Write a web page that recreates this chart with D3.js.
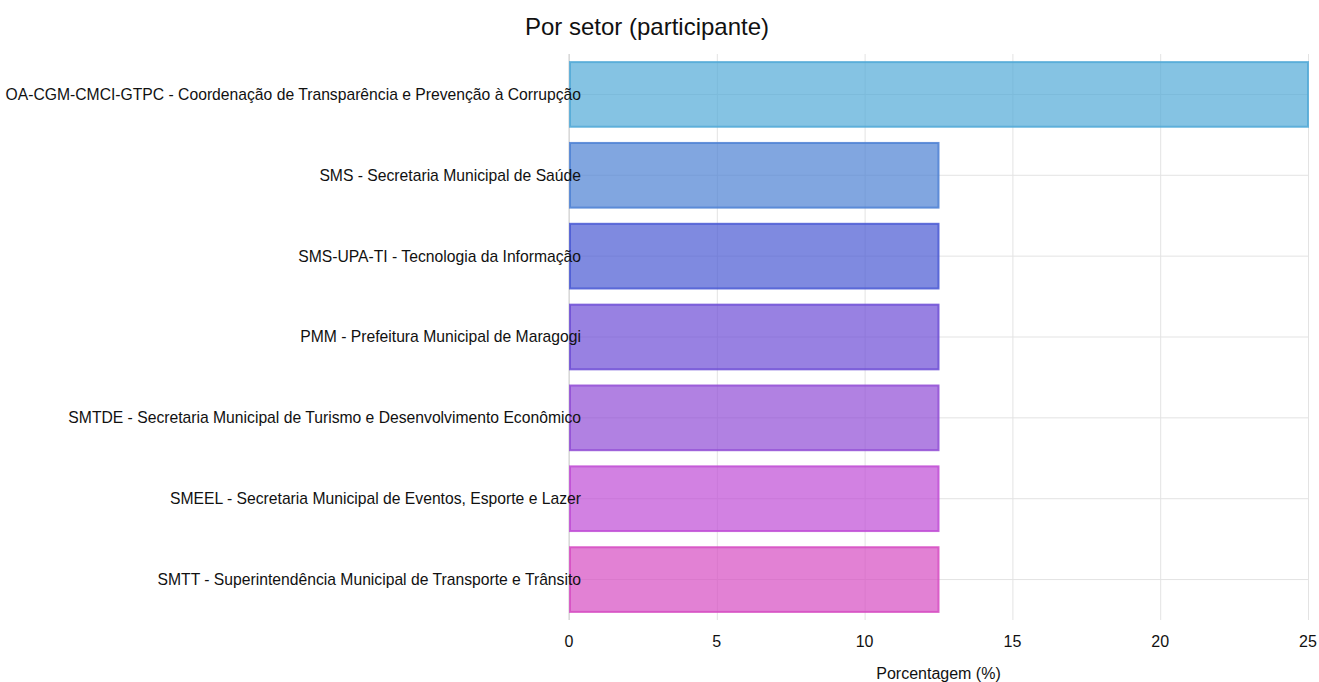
<!DOCTYPE html>
<html>
<head>
<meta charset="utf-8">
<script src="https://cdn.jsdelivr.net/npm/d3@7"></script>
<style>
	body { margin: 0; background: #fff; }
	svg { font-family: "Liberation Sans", Arial, sans-serif; }
	.grid line { stroke: #e3e3e3; stroke-width: 1; }
	.grid path { display: none; }
</style>
</head>
<body>
<svg></svg>
<script>
var setores = [
	"OA-CGM-CMCI-GTPC - Coordenação de Transparência e Prevenção à Corrupção",
	"SMS - Secretaria Municipal de Saúde",
	"SMS-UPA-TI - Tecnologia da Informação",
	"PMM - Prefeitura Municipal de Maragogi",
	"SMTDE - Secretaria Municipal de Turismo e Desenvolvimento Econômico",
	"SMEEL - Secretaria Municipal de Eventos, Esporte e Lazer",
	"SMTT - Superintendência Municipal de Transporte e Trânsito"
];
var porcentagem = [25, 12.5, 12.5, 12.5, 12.5, 12.5, 12.5];
var cores = ["#51a9d7", "#4c80d3", "#4958d3", "#6c4cd5", "#904cd5", "#bf4cd5", "#d64cc2"];
var xTicks = [0, 5, 10, 15, 20, 25];

var W = 1319, H = 682;
var margin = {top: 54, right: 11, bottom: 62, left: 569};
var width = W - margin.left - margin.right;
var height = H - margin.top - margin.bottom;

var x = d3.scaleLinear().domain([0, 25]).range([0, width]);
var y = d3.scaleBand().domain(setores).range([0, height]).paddingInner(0.2).paddingOuter(0.1);

var svg = d3.select("svg").attr("width", W).attr("height", H);

svg.append("text")
	.attr("x", 647).attr("y", 35)
	.attr("text-anchor", "middle")
	.style("font-size", "24px")
	.attr("fill", "#111")
	.text("Por setor (participante)");

var g = svg.append("g").attr("transform", "translate(" + margin.left + "," + margin.top + ")");

// grid lines
g.append("g").attr("class", "grid")
	.attr("transform", "translate(0," + height + ")")
	.call(d3.axisBottom(x).tickValues(xTicks).tickSize(-height).tickFormat(""));
g.append("g").attr("class", "grid")
	.call(d3.axisLeft(y).tickSize(-width).tickFormat(""))
	.selectAll("line").attr("x1", 0);

// left axis line
g.append("line").attr("x1", 0).attr("x2", 0).attr("y1", 0).attr("y2", height)
	.attr("stroke", "#cfcfcf");

// bars
g.selectAll(".bar").data(setores).enter().append("rect")
	.attr("class", "bar")
	.attr("x", x(0) + 1)
	.attr("y", function(d) { return y(d); })
	.attr("width", function(d, i) { return x(porcentagem[i]) - x(0) - 1; })
	.attr("height", y.bandwidth())
	.attr("fill", function(d, i) { return cores[i]; })
	.attr("fill-opacity", 0.7)
	.attr("stroke", function(d, i) { return cores[i]; })
	.attr("stroke-opacity", 0.85)
	.attr("stroke-width", 2);

// category labels
g.selectAll(".lbl").data(setores).enter().append("text")
	.attr("class", "lbl")
	.attr("x", 12)
	.attr("y", function(d) { return y(d) + y.bandwidth() / 2; })
	.attr("dy", "0.35em")
	.attr("text-anchor", "end")
	.style("font-size", "15.7px")
	.attr("fill", "#111")
	.text(function(d) { return d; });

// x tick labels
g.selectAll(".xt").data(xTicks).enter().append("text")
	.attr("class", "xt")
	.attr("x", function(d) { return x(d); })
	.attr("y", height + 27)
	.attr("text-anchor", "middle")
	.style("font-size", "16px")
	.attr("fill", "#111")
	.text(function(d) { return d; });

g.append("text")
	.attr("x", width / 2)
	.attr("y", height + 59)
	.attr("text-anchor", "middle")
	.style("font-size", "16px")
	.attr("fill", "#111")
	.text("Porcentagem (%)");
</script>
</body>
</html>
